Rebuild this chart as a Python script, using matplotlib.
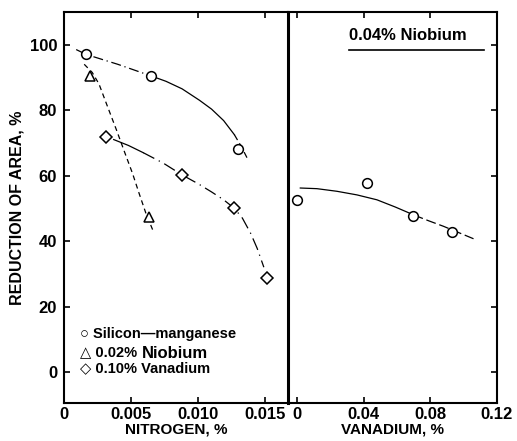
import numpy as np
import matplotlib
matplotlib.use('Agg')
import matplotlib.pyplot as plt

plt.rcParams['font.family'] = ['Liberation Sans', 'DejaVu Sans']
plt.rcParams['font.weight'] = 'bold'

# Data
# left panel: reduction of area vs nitrogen
simn_n = [0.00165, 0.00645, 0.0130]
simn_ra = [97, 90.5, 68.2]
nb_n = [0.0019, 0.0063]
nb_ra = [90.5, 47.4]
v_n = [0.00315, 0.0088, 0.0127, 0.0151]
v_ra = [71.9, 60.2, 50.1, 28.8]

# hand drawn trend curves
simn_cx = [0.0009, 0.00165, 0.004, 0.00645, 0.0076, 0.0088, 0.0101, 0.0110,
           0.0119, 0.0127, 0.0132, 0.0137]
simn_cy = [98.5, 97, 94, 90.5, 88.8, 86.5, 83, 80.3, 76.8, 72.5, 69, 65]
nb_cx = [0.0015, 0.0021, 0.0026, 0.0032, 0.0039, 0.0045, 0.0051, 0.0056, 0.0061, 0.0067]
nb_cy = [94, 91.5, 88, 81.5, 74, 67.3, 60.7, 54.5, 48.5, 42.5]
v_cx = [0.0037, 0.0048, 0.0059, 0.0074, 0.0088, 0.0100, 0.0110, 0.0119, 0.0127,
        0.0133, 0.0139, 0.0144, 0.0149]
v_cy = [71, 69.2, 67, 63.8, 60.2, 57.5, 55, 52.6, 50, 47, 42.5, 37.8, 32]

# right panel: 0.04% Nb steel vs vanadium
van = [0.0, 0.042, 0.0696, 0.093]
van_ra = [52.6, 57.8, 47.7, 42.8]
van_cx = [0.002, 0.012, 0.024, 0.036, 0.048, 0.059, 0.070, 0.079, 0.088, 0.097, 0.106]
van_cy = [56.2, 56.0, 55.2, 54.1, 52.6, 50.4, 48, 46.2, 44.5, 42.6, 40.7]

fig = plt.figure(figsize=(5.17, 4.41), dpi=100)
ax1 = fig.add_axes([0.124, 0.086, 0.433, 0.887])
ax2 = fig.add_axes([0.557, 0.086, 0.404, 0.887])
ax2.patch.set_visible(False)

mk = dict(mfc='white', mec='black', mew=1.1, ms=7, ls='none', zorder=3)

# left panel curves
ax1.plot(simn_cx[:4], simn_cy[:4], color='black', lw=0.9, ls=(0, (8, 3, 1, 3)))
ax1.plot(simn_cx[3:10], simn_cy[3:10], color='black', lw=0.9)
ax1.plot(simn_cx[9:], simn_cy[9:], color='black', lw=0.9, ls=(0, (5, 3)))
ax1.plot(nb_cx, nb_cy, color='black', lw=0.9, ls=(0, (4, 3)))
ax1.plot(v_cx[:3], v_cy[:3], color='black', lw=0.9)
ax1.plot(v_cx[2:], v_cy[2:], color='black', lw=0.9, ls=(0, (10, 4, 1, 4)))

ax1.plot(simn_n, simn_ra, marker='o', **mk)
ax1.plot(nb_n, nb_ra, marker='^', **mk)
ax1.plot(v_n, v_ra, marker='D', **dict(mk, ms=6.5))

ax1.set_xlim(0, 0.0167)
ax1.set_ylim(-9.5, 110)
ax1.set_xticks([0, 0.005, 0.010, 0.015])
ax1.set_xticklabels(['0', '0.005', '0.010', '0.015'])
ax1.set_yticks([0, 20, 40, 60, 80, 100])
ax1.tick_params(direction='in', top=True, labelsize=12, length=4, width=1.2, pad=5)
ax1.tick_params(axis='x', pad=3)
ax1.set_xlabel('NITROGEN, %', fontsize=11, fontweight='bold', labelpad=0)
ax1.set_ylabel('REDUCTION OF AREA, %', fontsize=11.5, fontweight='bold', labelpad=4)

# legend as text
ax1.text(0.0012, 11.6, '\u25cb Silicon\u2014manganese', fontsize=10.5, fontweight='bold', va='center')
t = ax1.text(0.0012, 6.2, '\u25b3 0.02% ', fontsize=10.5, fontweight='bold', va='center')
ax1.annotate('Niobium', xy=(1, 0.4), xycoords=t, fontsize=12, fontweight='bold',
             va='center', ha='left')
ax1.text(0.0012, 1.2, '\u25c7 0.10% Vanadium', fontsize=10.5, fontweight='bold', va='center')

# right panel
ax2.plot(van_cx[:7], van_cy[:7], color='black', lw=0.9)
ax2.plot(van_cx[6:], van_cy[6:], color='black', lw=0.9, ls=(0, (8, 3)))
ax2.plot(van, van_ra, marker='o', **mk)
ax2.set_xlim(-0.0054, 0.12)
ax2.set_ylim(-9.5, 110)
ax2.set_xticks([0, 0.04, 0.08, 0.12])
ax2.set_xticklabels(['0', '0.04', '0.08', '0.12'])
ax2.set_yticks([0, 20, 40, 60, 80, 100])
ax2.tick_params(direction='in', top=True, right=True, left=False, labelleft=False,
                labelsize=12, length=4, width=1.2, pad=3)
ax2.spines['left'].set_visible(False)
ax2.set_xlabel('VANADIUM, %', fontsize=11, fontweight='bold', labelpad=0)
ax2.text(0.031, 101.5, '0.04% Niobium', fontsize=12, fontweight='bold', ha='left')
ax2.plot([0.031, 0.112], [98.3, 98.3], color='black', lw=1.2)

for a in (ax1, ax2):
    for s in a.spines.values():
        s.set_linewidth(1.5)
ax1.spines['right'].set_linewidth(2.2)

plt.savefig('out.png', dpi=100)
